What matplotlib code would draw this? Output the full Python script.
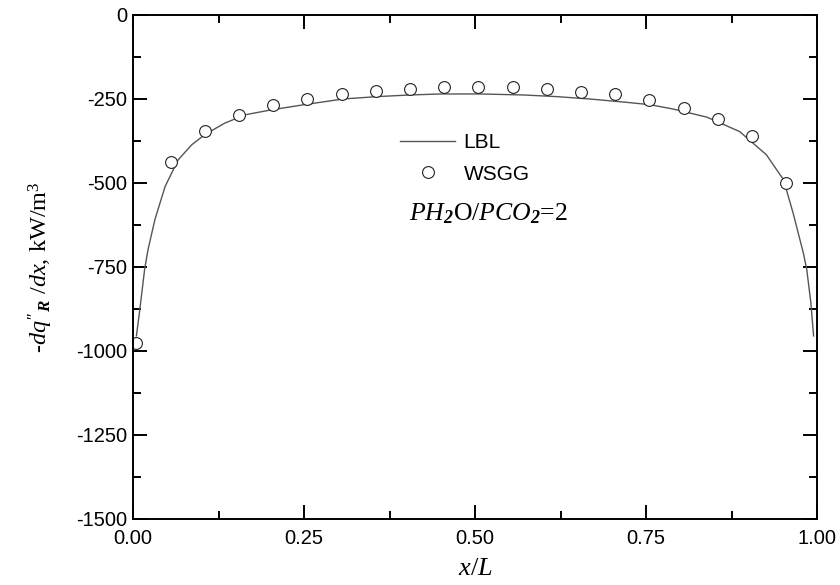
import matplotlib
matplotlib.use("Agg")
import matplotlib.pyplot as plt
from matplotlib.ticker import MultipleLocator

# LBL curve
lbl_x = [0.005, 0.010, 0.017, 0.022, 0.032, 0.047, 0.066, 0.086, 0.105, 0.134,
         0.164, 0.203, 0.250, 0.307, 0.356, 0.405, 0.450, 0.507, 0.571, 0.620,
         0.668, 0.722, 0.756, 0.790, 0.839, 0.887, 0.926, 0.951, 0.965, 0.980,
         0.985, 0.991, 0.995]
lbl_y = [-955, -876, -757, -698, -609, -510, -431, -386, -356, -322,
         -297, -282, -267, -250, -243, -238, -235, -235, -238, -243,
         -250, -260, -267, -280, -304, -347, -416, -490, -589, -708,
         -757, -856, -955]

# WSGG points
wsgg_x = [0.005, 0.055, 0.105, 0.155, 0.205, 0.255, 0.305, 0.355, 0.405, 0.455,
          0.505, 0.555, 0.605, 0.655, 0.705, 0.755, 0.805, 0.855, 0.905, 0.955]
wsgg_y = [-975, -437, -344, -297, -269, -249, -235, -225, -219, -215,
          -214, -215, -221, -228, -235, -254, -276, -309, -361, -500]

x_ticks = [0.00, 0.25, 0.50, 0.75, 1.00]
y_ticks = [0, -250, -500, -750, -1000, -1250, -1500]

plt.rcParams['font.family'] = ['Liberation Sans', 'DejaVu Sans']
plt.rcParams['axes.unicode_minus'] = False
plt.rcParams['mathtext.fontset'] = 'custom'
plt.rcParams['mathtext.rm'] = 'Liberation Serif'
plt.rcParams['mathtext.it'] = 'Liberation Serif:italic'
plt.rcParams['mathtext.bf'] = 'Liberation Serif:italic:bold'

fig = plt.figure(figsize=(8.4, 5.85), dpi=100)
ax = fig.add_axes([133/840, 1 - 519/585, 684/840, 504/585])

ax.plot(lbl_x, lbl_y, color='#555555', lw=1.0, label='LBL')
ax.plot(wsgg_x, wsgg_y, ls='none', marker='o', ms=8.5, mfc='white', mec='#222222',
        mew=0.8, label='WSGG')

ax.set_xlim(0, 1)
ax.set_ylim(-1500, 0)
ax.set_xticks(x_ticks)
ax.set_xticklabels(['%.2f' % v for v in x_ticks])
ax.set_yticks(y_ticks)
ax.xaxis.set_minor_locator(MultipleLocator(0.125))
ax.yaxis.set_minor_locator(MultipleLocator(125))

for s in ax.spines.values():
    s.set_linewidth(1.4)
ax.tick_params(which='both', direction='in', top=True, right=True, width=1.4)
ax.tick_params(which='major', length=10, labelsize=14.5)
ax.tick_params(which='minor', length=6)
ax.tick_params(axis='x', which='major', pad=7)
ax.tick_params(axis='y', which='major', pad=4)

ax.set_xlabel('$\\mathit{x/L}$', fontsize=19, labelpad=6)
ax.set_ylabel("-$\\mathit{dq}''_{\\mathbf{R}}$ /$\\mathit{dx}$, kW/m$^3$",
              fontsize=17.5, family='Liberation Serif', labelpad=15)

leg = ax.legend(loc='upper left', bbox_to_anchor=((400 - 133) / 684, (519 - 133) / 504),
                frameon=False, fontsize=15, handlelength=2.65, handletextpad=0.4,
                borderpad=0, borderaxespad=0, labelspacing=0.6)

ax.text(0.52, -590, '$\\mathit{PH}_{\\mathbf{2}}$O/$\\mathit{PCO}_{\\mathbf{2}}$=2',
        fontsize=18.5, family='Liberation Serif', ha='center', va='center')

fig.savefig('out.png', dpi=100)
